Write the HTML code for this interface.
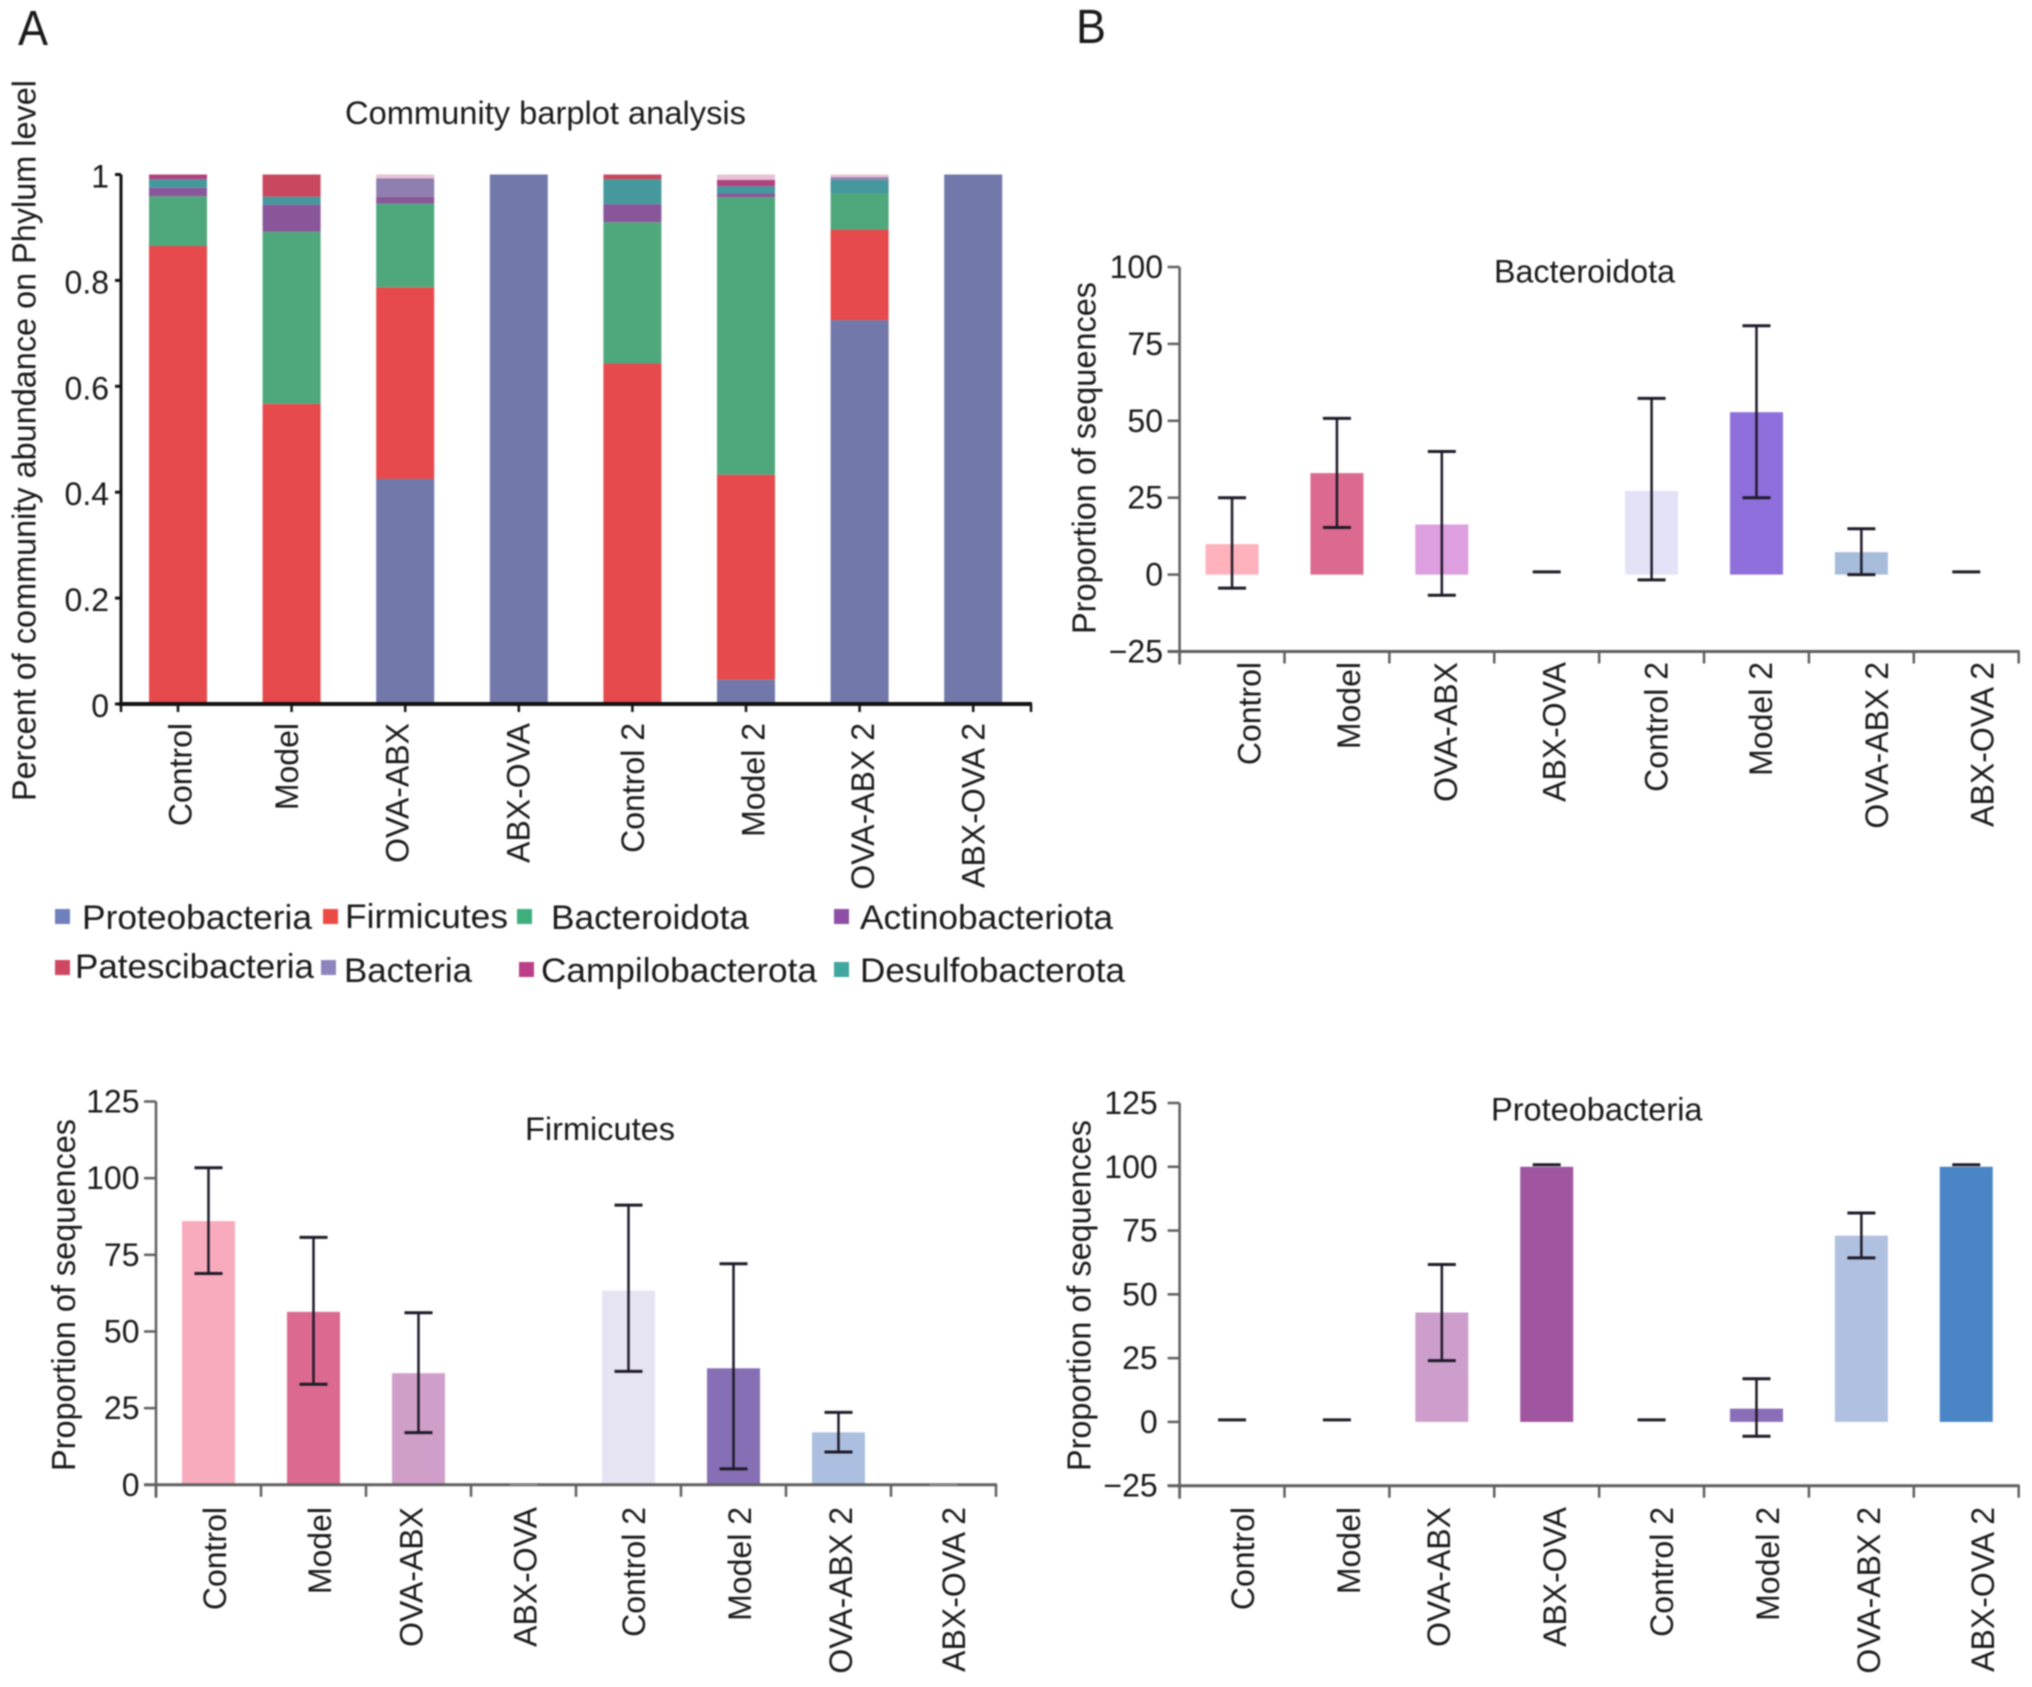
<!DOCTYPE html>
<html lang="en">
<head>
<meta charset="utf-8">
<title>Community barplot analysis</title>
<style>
html,body{margin:0;padding:0;background:#fff;}
#figure{display:block;width:2032px;height:1687px;filter:blur(0.7px);}
text{font-family:"Liberation Sans",Arial,sans-serif;fill:#1a1a1a;}
</style>
</head>
<body>
<svg id="figure" xmlns="http://www.w3.org/2000/svg" width="2032" height="1687" viewBox="0 0 2032 1687">
<rect width="2032" height="1687" fill="#ffffff"/>
<text x="18" y="45" font-size="49" textLength="30" lengthAdjust="spacingAndGlyphs">A</text>
<text x="1076" y="43" font-size="48" textLength="30" lengthAdjust="spacingAndGlyphs">B</text>
</svg>
<script>
// ---------- Shared categories ----------
const categories = ['Control','Model','OVA-ABX','ABX-OVA','Control 2','Model 2','OVA-ABX 2','ABX-OVA 2'];

// ---------- Panel A: stacked composition (fraction of community) ----------
const proteobacteria   = [0,     0,     0.425, 1, 0,     0.046, 0.725, 1];
const firmicutes       = [0.865, 0.567, 0.362, 0, 0.643, 0.387, 0.171, 0];
const bacteroidota     = [0.094, 0.325, 0.158, 0, 0.267, 0.524, 0.068, 0];
const actinobacteriota = [0.016, 0.051, 0.013, 0, 0.034, 0.007, 0,     0];
const desulfobacterota = [0.016, 0.015, 0,     0, 0.047, 0.014, 0.026, 0];
const bacteriaOther    = [0,     0,     0.035, 0, 0,     0,     0.005, 0];
const patescibacteria  = [0,     0.042, 0,     0, 0.009, 0,     0,     0];
const campilobacterota = [0.009, 0,     0,     0, 0,     0.012, 0,     0];
const unclassified     = [0,     0,     0.007, 0, 0,     0.010, 0.005, 0];
const stackTicks = [0,0.2,0.4,0.6,0.8,1];

// ---------- Bacteroidota panel ----------
const bacteroidotaTicks  = [-25,0,25,50,75,100];
const bacteroidotaMeans  = [9.9, 33, 16.3, 0, 27.2, 52.8, 7.3, 0];
const bacteroidotaHigh   = [25, 50.8, 40, 0.9, 57.3, 80.9, 14.9, 0.9];
const bacteroidotaLow    = [-4.4, 15.3, -6.7, 0.9, -1.7, 25, 0, 0.9];

// ---------- Firmicutes panel ----------
const firmicutesTicks = [0,25,50,75,100,125];
const firmicutesMeans = [86, 56.4, 36.4, 0, 63.3, 38, 17.1, 0];
const firmicutesHigh  = [103.4, 80.7, 56.1, 0, 91.2, 72.1, 23.6, 0];
const firmicutesLow   = [68.9, 32.8, 17, 0, 37, 5.2, 10.7, 0];

// ---------- Proteobacteria panel ----------
const proteobacteriaTicks = [-25,0,25,50,75,100,125];
const proteobacteriaMeans = [0, 0, 42.9, 100, 0, 5.2, 73, 100];
const proteobacteriaHigh  = [0.8, 0.8, 61.7, 100.8, 0.8, 16.9, 81.9, 100.8];
const proteobacteriaLow   = [0.8, 0.8, 24, 100.8, 0.8, -5.6, 64.3, 100.8];

// ---------- Drawing ----------
const svg = document.getElementById('figure');
const NS = 'http://www.w3.org/2000/svg';

function make(tag, attrs, parent) {
  const el = document.createElementNS(NS, tag);
  for (const k in attrs) el.setAttribute(k, attrs[k]);
  (parent || svg).appendChild(el);
  return el;
}
function slug(s) { return s.toLowerCase().replace(/[^a-z0-9]+/g, '-'); }
function fmtTick(v) { return v < 0 ? '\u2212' + Math.abs(v) : String(v); }

function addText(parent, str, attrs, name) {
  const el = make('text', attrs, parent);
  el.textContent = str;
  
  
  return el;
}
function addRotated(parent, str, x, y, anchor, size, len, name) {
  const a = { transform: 'translate(' + x + ',' + y + ') rotate(-90)', 'text-anchor': anchor, 'font-size': size };
  if (len) { a.textLength = len; a.lengthAdjust = 'spacingAndGlyphs'; }
  return addText(parent, str, a, name);
}

// ---- Panel A ----
const stackSeries = [
  { key: 'proteobacteria',   values: proteobacteria,   color: '#7278a9' },
  { key: 'firmicutes',       values: firmicutes,       color: '#e64a4d' },
  { key: 'bacteroidota',     values: bacteroidota,     color: '#4ea87b' },
  { key: 'actinobacteriota', values: actinobacteriota, color: '#89569a' },
  { key: 'desulfobacterota', values: desulfobacterota, color: '#45989b' },
  { key: 'bacteria',         values: bacteriaOther,    color: '#8e7fb0' },
  { key: 'patescibacteria',  values: patescibacteria,  color: '#c9485f' },
  { key: 'campilobacterota', values: campilobacterota, color: '#b0437f' },
  { key: 'unclassified',     values: unclassified,     color: '#e6c3d6' }
];
const A = { x0: 121, x1: 1031, y0: 704, y1: 174.5, first: 178, step: 113.6, barW: 58 };
const aX = i => A.first + i * A.step;
const aY = v => A.y0 - v * (A.y0 - A.y1);
const aLabelNudge = [13.5, 6.5, 3.5, 10.5, 11.5, 18.5, 14.5, 11.5];

const panelA = make('g', {});



addText(panelA, 'Community barplot analysis',
  { x: 345, y: 124, 'font-size': 32, textLength: 401, lengthAdjust: 'spacingAndGlyphs' }, 'chart-title');
addRotated(panelA, 'Percent of community abundance on Phylum level', 35.5, 801, 'start', 33, 721, 'y-axis-title');

categories.forEach((cat, i) => {
  let acc = 0;
  stackSeries.forEach(s => {
    const v = s.values[i];
    if (v > 0) {
      const r = make('rect', { x: aX(i) - A.barW / 2, y: aY(acc + v), width: A.barW, height: aY(acc) - aY(acc + v), fill: s.color }, panelA);
      
      
      acc += v;
    }
  });
});

const aYAxis = make('line', { x1: A.x0, x2: A.x0, y1: A.y1, y2: A.y0 + 2, stroke: '#111', 'stroke-width': 3 }, panelA);


const aXAxis = make('line', { x1: A.x0 - 2, x2: A.x1 + 1, y1: A.y0, y2: A.y0, stroke: '#111', 'stroke-width': 4 }, panelA);



stackTicks.forEach(t => {
  const m = make('line', { x1: A.x0 - 6, x2: A.x0, y1: aY(t), y2: aY(t), stroke: '#111', 'stroke-width': 3 }, panelA);
  
  
  addText(panelA, String(t), { x: 109, y: aY(t) + 13, 'text-anchor': 'end', 'font-size': 32 }, 'y-tick-label');
});
[A.x0, A.x1].forEach(x => {
  const m = make('line', { x1: x, x2: x, y1: A.y0, y2: A.y0 + 8, stroke: '#111', 'stroke-width': 2.5 }, panelA);
  
  
});
categories.forEach((cat, i) => {
  const m = make('line', { x1: aX(i), x2: aX(i), y1: A.y0, y2: A.y0 + 8, stroke: '#111', 'stroke-width': 2.5 }, panelA);
  
  
  addRotated(panelA, cat, aX(i) + aLabelNudge[i], 723, 'end', 32, 0, 'x-tick-label-' + slug(cat));
});

// ---- Legend ----
const legendNames = ['Proteobacteria','Firmicutes','Bacteroidota','Actinobacteriota','Patescibacteria','Bacteria','Campilobacterota','Desulfobacterota'];
const legendColors = ['#6f80bd','#ec4a45','#3fae7d','#8f4fa6','#cf4763','#8e84bd','#bb3f88','#3fa6a0'];
const legendLayout = [
  { sx: 55,  sy: 909, tx: 82,  ty: 929, w: 230 },
  { sx: 323, sy: 909, tx: 345, ty: 928, w: 163 },
  { sx: 517, sy: 909, tx: 551, ty: 929, w: 198 },
  { sx: 834, sy: 909, tx: 860, ty: 929, w: 253 },
  { sx: 55,  sy: 960, tx: 75,  ty: 978, w: 239 },
  { sx: 321, sy: 960, tx: 344, ty: 982, w: 128 },
  { sx: 519, sy: 962, tx: 541, ty: 982, w: 276 },
  { sx: 834, sy: 962, tx: 860, ty: 982, w: 265 }
];
const legend = make('g', {});


legendNames.forEach((n, i) => {
  const l = legendLayout[i];
  const sw = make('rect', { x: l.sx, y: l.sy, width: 15, height: 15, fill: legendColors[i] }, legend);
  
  
  addText(legend, n, { x: l.tx, y: l.ty, 'font-size': 34, textLength: l.w, lengthAdjust: 'spacingAndGlyphs' }, 'legend-entry-' + slug(n));
});

// ---- Error-bar panels ----
const panels = [
  {
    name: 'bacteroidota-chart', title: 'Bacteroidota',
    titleX: 1494, titleY: 282.6, titleW: 181,
    ticks: bacteroidotaTicks, means: bacteroidotaMeans, high: bacteroidotaHigh, low: bacteroidotaLow,
    colors: ['#ffb1bc','#dc6a90','#dd9fdf','#cccccc','#e4e2f7','#8f6fdb','#a7bcdb','#cccccc'],
    xL: 1179.6, xR: 2018.7, yMin: -25, yMax: 100, pyMin: 651.5, pyMax: 267, axisAt: -25,
    tickLabelX: 1163, labelTop: 662,
    labelBase: [1260.4, 1359.8, 1456.8, 1565.4, 1667.5, 1771.8, 1887.8, 1993.5],
    yTitleX: 1095.5, yTitleBottom: 634, yTitleLen: 352, capStroke: '#1e1a28'
  },
  {
    name: 'firmicutes-chart', title: 'Firmicutes',
    titleX: 525, titleY: 1140, titleW: 150,
    ticks: firmicutesTicks, means: firmicutesMeans, high: firmicutesHigh, low: firmicutesLow,
    colors: ['#f8abbc','#dc6a90','#cf9fca','#cccccc','#e6e4f3','#876fb5','#adbfe0','#cccccc'],
    xL: 156, xR: 996, yMin: 0, yMax: 125, pyMin: 1484.8, pyMax: 1101.5, axisAt: 0,
    tickLabelX: 139.5, labelTop: 1507,
    labelBase: [226, 331, 422.6, 536.5, 645, 751, 852, 965],
    yTitleX: 75, yTitleBottom: 1471, yTitleLen: 352, capStroke: '#1e1a28'
  },
  {
    name: 'proteobacteria-chart', title: 'Proteobacteria',
    titleX: 1491, titleY: 1120.6, titleW: 211.5,
    ticks: proteobacteriaTicks, means: proteobacteriaMeans, high: proteobacteriaHigh, low: proteobacteriaLow,
    colors: ['#cccccc','#cccccc','#cd9ecb','#a055a0','#cccccc','#8a6fb8','#b0c0e0','#4a85c6'],
    xL: 1179.6, xR: 2018.7, yMin: -25, yMax: 125, pyMin: 1485.7, pyMax: 1103, axisAt: -25,
    tickLabelX: 1157.7, labelTop: 1507,
    labelBase: [1254, 1360, 1450, 1566, 1673, 1779, 1880, 1994],
    yTitleX: 1090.5, yTitleBottom: 1471, yTitleLen: 351, capStroke: '#1e1a28'
  }
];

panels.forEach(p => {
  const g = make('g', {});
  
  

  const step = (p.xR - p.xL) / categories.length;
  const xC = i => p.xL + (i + 0.5) * step;
  const yS = v => p.pyMin - (v - p.yMin) * (p.pyMin - p.pyMax) / (p.yMax - p.yMin);
  const base = yS(p.axisAt);
  const axisColor = '#5f5f5f';

  addText(g, p.title, { x: p.titleX, y: p.titleY, 'font-size': 32, textLength: p.titleW, lengthAdjust: 'spacingAndGlyphs' }, 'chart-title');
  addRotated(g, 'Proportion of sequences', p.yTitleX, p.yTitleBottom, 'start', 33, p.yTitleLen, 'y-axis-title');

  // bars
  categories.forEach((cat, i) => {
    const v = p.means[i];
    if (v > 0) {
      const r = make('rect', { x: xC(i) - 26.5, y: yS(v), width: 53, height: yS(0) - yS(v), fill: p.colors[i] }, g);
      
      
    }
  });

  // axes
  const ya = make('line', { x1: p.xL, x2: p.xL, y1: yS(p.yMax), y2: base + 13, stroke: axisColor, 'stroke-width': 2.5 }, g);
  
  
  const xa = make('line', { x1: p.xL - 12, x2: p.xR + 1, y1: base, y2: base, stroke: axisColor, 'stroke-width': 3 }, g);
  
  

  p.ticks.forEach(t => {
    const m = make('line', { x1: p.xL - 12, x2: p.xL, y1: yS(t), y2: yS(t), stroke: axisColor, 'stroke-width': 2.5 }, g);
    
    
    addText(g, fmtTick(t), { x: p.tickLabelX, y: yS(t) + 11, 'text-anchor': 'end', 'font-size': 32 }, 'y-tick-label');
  });
  for (let i = 0; i <= categories.length; i++) {
    const x = p.xL + i * step;
    const m = make('line', { x1: x, x2: x, y1: base, y2: base + 12, stroke: axisColor, 'stroke-width': 2.5 }, g);
    
    
  }
  categories.forEach((cat, i) => {
    addRotated(g, cat, p.labelBase[i], p.labelTop, 'end', 32, 0, 'x-tick-label-' + slug(cat));
  });

  // error bars
  categories.forEach((cat, i) => {
    const hi = p.high[i], lo = p.low[i];
    const flatZero = hi === 0 && lo === 0;
    const stroke = flatZero ? '#8a8a8a' : p.capStroke;
    const eg = make('g', { stroke: stroke, 'stroke-width': flatZero ? 1.5 : 2.5, fill: 'none' }, g);
    
    
    const x = xC(i);
    if (hi !== lo) make('line', { x1: x, x2: x, y1: yS(hi), y2: yS(lo) }, eg);
    make('line', { x1: x - 14, x2: x + 14, y1: yS(hi), y2: yS(hi), 'stroke-width': flatZero ? 1.5 : 3 }, eg);
    if (hi !== lo) make('line', { x1: x - 14, x2: x + 14, y1: yS(lo), y2: yS(lo), 'stroke-width': 3 }, eg);
  });
});
</script>
</body>
</html>
